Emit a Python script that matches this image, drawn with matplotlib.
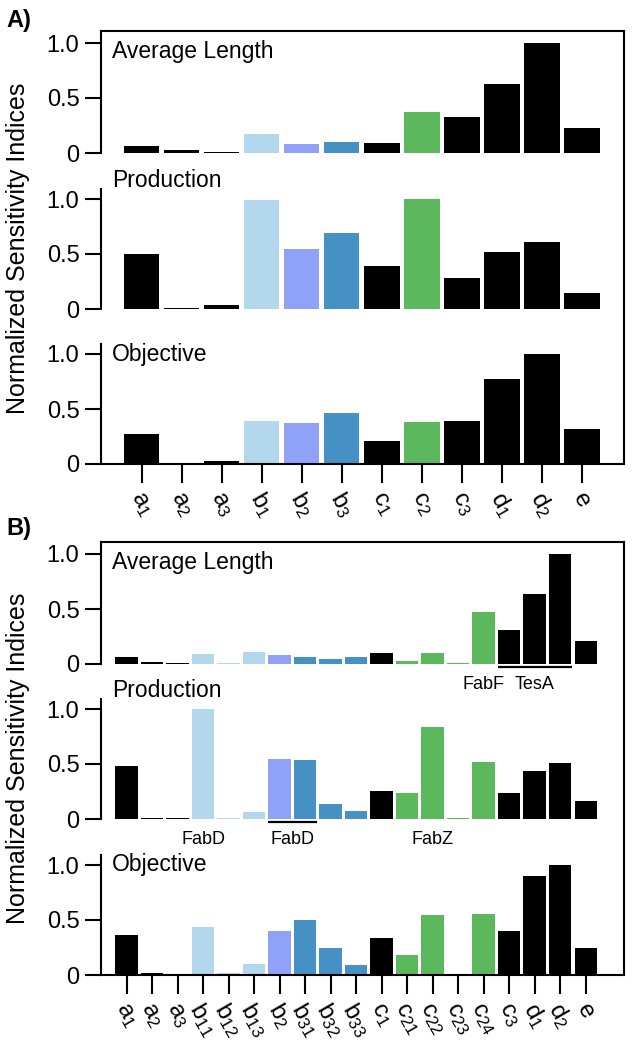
import matplotlib
matplotlib.use("Agg")
import matplotlib.pyplot as plt
import matplotlib.transforms as mtrans

plt.rcParams['font.family'] = ['Liberation Sans', 'DejaVu Sans']
plt.rcParams['mathtext.fontset'] = 'custom'
plt.rcParams['mathtext.rm'] = 'Liberation Sans'
plt.rcParams['mathtext.it'] = 'Liberation Sans'
plt.rcParams['mathtext.default'] = 'regular'

# ---------------- data ----------------
cats_a = ['a_1', 'a_2', 'a_3', 'b_1', 'b_2', 'b_3', 'c_1', 'c_2', 'c_3', 'd_1', 'd_2', 'e']
groups_a = ['k', 'k', 'k', 'b1', 'b2', 'b3', 'k', 'c2', 'k', 'k', 'k', 'k']
avg_len_a = [0.06, 0.03, 0.01, 0.17, 0.08, 0.10, 0.09, 0.37, 0.33, 0.63, 1.00, 0.23]
production_a = [0.50, 0.01, 0.04, 0.99, 0.55, 0.69, 0.39, 1.00, 0.28, 0.52, 0.61, 0.15]
objective_a = [0.27, 0.005, 0.03, 0.39, 0.37, 0.46, 0.21, 0.38, 0.39, 0.77, 1.00, 0.32]

cats_b = ['a_1', 'a_2', 'a_3', 'b_{11}', 'b_{12}', 'b_{13}', 'b_2', 'b_{31}', 'b_{32}', 'b_{33}',
          'c_1', 'c_{21}', 'c_{22}', 'c_{23}', 'c_{24}', 'c_3', 'd_1', 'd_2', 'e']
groups_b = ['k', 'k', 'k', 'b1', 'b1', 'b1', 'b2', 'b3', 'b3', 'b3',
            'k', 'c2', 'c2', 'c2', 'c2', 'k', 'k', 'k', 'k']
avg_len_b = [0.067, 0.02, 0.01, 0.088, 0.01, 0.11, 0.08, 0.067, 0.05, 0.067,
             0.10, 0.025, 0.10, 0.005, 0.476, 0.31, 0.64, 1.00, 0.21]
production_b = [0.48, 0.012, 0.006, 1.00, 0.012, 0.06, 0.545, 0.533, 0.136, 0.07,
                0.258, 0.233, 0.84, 0.009, 0.518, 0.24, 0.436, 0.51, 0.167]
objective_b = [0.36, 0.015, 0.003, 0.434, 0.015, 0.104, 0.404, 0.50, 0.25, 0.092,
               0.34, 0.18, 0.55, 0.006, 0.553, 0.40, 0.90, 1.00, 0.25]

titles = ['Average Length', 'Production', 'Objective']
yticks = [0, 0.5, 1.0]
ytick_labels = ['0', '0.5', '1.0']

# annotations for panel B: (subplot index, label, x index, underline start idx, end idx)
annot_b = [
    (0, 'FabF', 14, None, None),
    (0, 'TesA', 16, 15, 17),
    (1, 'FabD', 3, None, None),
    (1, 'FabD', 6.5, 6, 7),
    (1, 'FabZ', 12, None, None),
]

colors = {'k': '#000000', 'b1': '#b3d7ec', 'b2': '#8fa2f7', 'b3': '#4590c5', 'c2': '#5cb85c'}

# ---------------- layout ----------------
W, H = 635, 1050
fig = plt.figure(figsize=(W / 100, H / 100), dpi=100)
left_px, right_px = 101, 624
ppu = 110.0  # pixels per data unit

panel_rows = {
    'A': [(31, 153), (153, 309), (309, 464)],
    'B': [(542, 664), (664, 819), (819, 975)],
}
text_y = [0.92, 1.17, 1.0]
FS = 16.5


def draw_panel(rows, cats, groups, series, xlim, annots=None):
    axes = []
    n = len(cats)
    x = list(range(n))
    cols = [colors[g] for g in groups]
    for i, ((top, bot), vals) in enumerate(zip(rows, series)):
        ax = fig.add_axes([left_px / W, 1 - bot / H, (right_px - left_px) / W, (bot - top) / H])
        ax.patch.set_visible(False)
        ymax = (bot - top) / ppu
        ax.bar(x, vals, width=0.88, color=cols, linewidth=0)
        ax.set_xlim(*xlim)
        ax.set_ylim(0, ymax)
        ax.set_yticks(yticks)
        ax.set_yticklabels(ytick_labels)
        ax.tick_params(axis='y', direction='out', length=11.5, width=1.5, labelsize=FS + 0.5, pad=4)
        for s in ax.spines.values():
            s.set_linewidth(1.5)
        ax.spines['top'].set_visible(i == 0)
        ax.spines['bottom'].set_visible(i == len(rows) - 1)
        if i > 0:
            ax.spines['left'].set_bounds(0, 1.09)
        if i == len(rows) - 1:
            ax.set_xticks(x)
            ax.set_xticklabels(['$' + c + '$' for c in cats], rotation=-60,
                               ha='center', va='top', fontsize=FS + 1)
            ax.tick_params(axis='x', direction='out', length=14, width=1.5, pad=3)
        else:
            ax.set_xticks([])
        trans = mtrans.blended_transform_factory(ax.transAxes, ax.transData)
        ax.text(0.021, text_y[i], titles[i], transform=trans, ha='left', va='center', fontsize=FS)
        axes.append(ax)
    if annots:
        for (si, lab, xi, s0, s1) in annots:
            ax = axes[si]
            ax.text(xi, -0.19, lab, ha='center', va='center', fontsize=13, clip_on=False,
                    zorder=10)
            if s0 is not None:
                ax.plot([s0 - 0.45, s1 + 0.45], [-0.03, -0.03], color='black', lw=1.6,
                        clip_on=False, solid_capstyle='butt', zorder=10)
    return axes


draw_panel(panel_rows['A'], cats_a, groups_a, [avg_len_a, production_a, objective_a], (-1.02, 12.05))
draw_panel(panel_rows['B'], cats_b, groups_b, [avg_len_b, production_b, objective_b], (-1.0, 19.5), annot_b)

ylabel = 'Normalized Sensitivity Indices'
fig.text(18 / W, 1 - 248 / H, ylabel, rotation=90, ha='center', va='center', fontsize=18)
fig.text(18 / W, 1 - 758 / H, ylabel, rotation=90, ha='center', va='center', fontsize=18)
fig.text(6 / W, 1 - 21 / H, 'A)', ha='left', va='center', fontsize=17, fontweight='bold')
fig.text(6 / W, 1 - 529 / H, 'B)', ha='left', va='center', fontsize=17, fontweight='bold')

fig.savefig('out.png', dpi=100)
